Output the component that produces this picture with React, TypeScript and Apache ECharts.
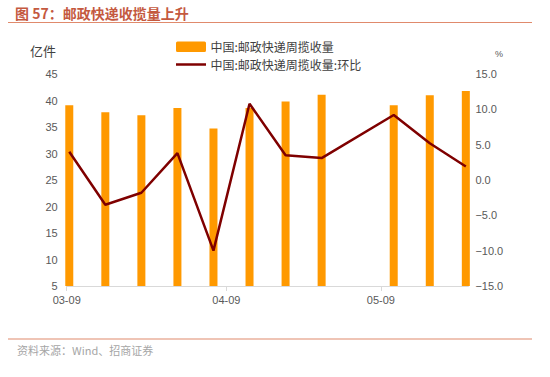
import React, { useEffect, useRef } from "react";
import * as echarts from "echarts";

const YEAR = 2023;
const weekDates = ["03-09", "03-16", "03-23", "03-30", "04-06", "04-13", "04-20", "04-27", "05-11", "05-18", "05-25"];
const volume = [39.1, 37.8, 37.2, 38.6, 34.7, 38.6, 39.8, 41.1, 39.1, 41.0, 41.8];
const momPct = [4.0, -3.5, -1.8, 3.8, -10.0, 10.8, 3.5, 3.1, 9.2, 5.2, 1.9];
const xTickLabels = ["03-09", "04-09", "05-09"];
const barName = "中国:邮政快递周揽收量";
const lineName = "中国:邮政快递周揽收量:环比";
const BAR_COLOR = "#FF9900";
const LINE_COLOR = "#7F0000";

const dayNum = (md: string) => {
  const [m, d] = md.split("-").map(Number);
  return (Date.UTC(YEAR, m - 1, d) - Date.UTC(YEAR, 2, 9)) / 86400000;
};

export default function App() {
  const ref = useRef<HTMLDivElement>(null);
  useEffect(() => {
    if (!ref.current) return;
    const chart = echarts.init(ref.current, null, { renderer: "svg" });
    const tickPos = xTickLabels.map((t) => dayNum(t) - 0.5);
    const labelFor = (v: number) => {
      const i = tickPos.findIndex((p) => Math.abs(p - v) < 0.01);
      return i >= 0 ? xTickLabels[i] : "";
    };
    const font = "'Liberation Sans', Arial, sans-serif";
    const cjk = "'Noto Sans CJK SC', sans-serif";
    chart.setOption({
      animation: false,
      backgroundColor: "#ffffff",
      textStyle: { fontFamily: font },
      graphic: [
        {
          type: "text",
          x: 15,
          y: 13,
          style: { text: "图 57：邮政快递收揽量上升", fill: "#C4593F", font: `bold 14px ${cjk}`, verticalAlign: "middle" },
        },
        { type: "line", shape: { x1: 8, y1: 22.5, x2: 532, y2: 22.5 }, style: { stroke: "#E08A6C", lineWidth: 1.2 } },
        { type: "line", shape: { x1: 8, y1: 339, x2: 532, y2: 339 }, style: { stroke: "#E08A6C", lineWidth: 1.2 } },
        {
          type: "text",
          x: 17,
          y: 350,
          style: { text: "资料来源：Wind、招商证券", fill: "#A6A6A6", font: `11px ${cjk}`, verticalAlign: "middle" },
        },
        // legend
        { type: "rect", shape: { x: 176, y: 41.5, width: 30, height: 10.5, r: 1.5 }, style: { fill: BAR_COLOR } },
        {
          type: "text",
          x: 210.5,
          y: 46.5,
          style: { text: barName, fill: "#404040", font: `12px ${cjk}`, verticalAlign: "middle" },
        },
        { type: "line", shape: { x1: 176, y1: 64.5, x2: 206, y2: 64.5 }, style: { stroke: LINE_COLOR, lineWidth: 2.5 } },
        {
          type: "text",
          x: 210.5,
          y: 64.5,
          style: { text: lineName, fill: "#404040", font: `12px ${cjk}`, verticalAlign: "middle" },
        },
        // axis names
        {
          type: "text",
          x: 56,
          y: 50,
          style: { text: "亿件", fill: "#404040", font: `13px ${cjk}`, align: "right", verticalAlign: "middle" },
        },
        {
          type: "text",
          x: 495,
          y: 54,
          style: { text: "%", fill: "#595959", font: `9px ${font}`, verticalAlign: "middle" },
        },
      ],
      grid: { left: 66.7, right: 81.6, top: 74, bottom: 91, containLabel: false },
      xAxis: {
        type: "value",
        min: -0.5,
        max: dayNum(weekDates[weekDates.length - 1]) + 0.5,
        splitLine: { show: false },
        axisLine: { show: true, onZero: false, lineStyle: { color: "#D9D9D9" } },
        axisTick: { show: true, customValues: tickPos, length: 5, lineStyle: { color: "#D9D9D9" } },
        axisLabel: {
          customValues: tickPos,
          formatter: (v: number) => labelFor(v),
          color: "#595959",
          fontSize: 11,
          margin: 8,
        },
      },
      yAxis: [
        {
          type: "value",
          min: 5,
          max: 45,
          interval: 5,
          splitLine: { show: false },
          axisLine: { show: false, onZero: false },
          axisTick: { show: false },
          axisLabel: { color: "#595959", fontSize: 11, margin: 9 },
        },
        {
          type: "value",
          min: -15,
          max: 15,
          interval: 5,
          splitLine: { show: false },
          axisLine: { show: false, onZero: false },
          axisTick: { show: false },
          axisLabel: {
            color: "#595959",
            fontSize: 11,
            margin: 7,
            formatter: (v: number) => v.toFixed(1).replace("-", "−"),
          },
        },
      ],
      series: [
        {
          name: barName,
          type: "bar",
          yAxisIndex: 0,
          barWidth: 8,
          itemStyle: { color: BAR_COLOR },
          data: weekDates.map((d, i) => [dayNum(d), volume[i]]),
        },
        {
          name: lineName,
          type: "line",
          yAxisIndex: 1,
          symbol: "none",
          lineStyle: { color: LINE_COLOR, width: 2.5 },
          itemStyle: { color: LINE_COLOR },
          data: weekDates.map((d, i) => [dayNum(d), momPct[i]]),
        },
      ],
    });
    return () => chart.dispose();
  }, []);
  return <div ref={ref} style={{ position: "absolute", left: 0, top: 0, width: 550, height: 377 }} />;
}
